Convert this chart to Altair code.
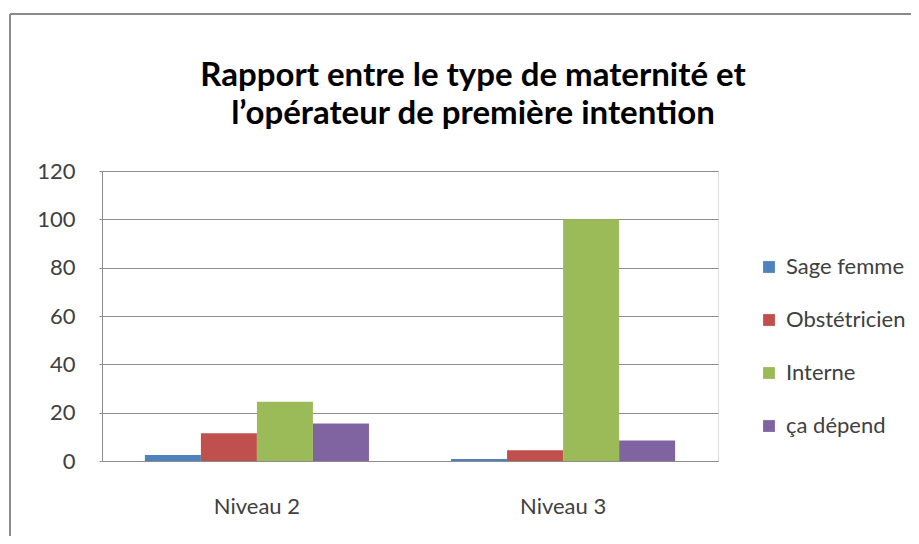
import altair as alt
import pandas as pd

categories = ["Niveau 2", "Niveau 3"]
series = ["Sage femme", "Obstétricien", "Interne", "ça dépend"]
colors = ["#4F81BD", "#C0504D", "#9BBB59", "#8064A2"]
niveau2 = [2.5, 11.5, 24.5, 15.5]
niveau3 = [0.8, 4.5, 100, 8.5]
y_ticks = [0, 20, 40, 60, 80, 100, 120]
title_lines = ["Rapport entre le type de maternité et", "l’opérateur de première intention"]

rows = []
for s, a, b in zip(series, niveau2, niveau3):
    rows.append({"niveau": categories[0], "operateur": s, "valeur": a})
    rows.append({"niveau": categories[1], "operateur": s, "valeur": b})
df = pd.DataFrame(rows)

FONT = "Lato"
W, H = 616, 290

bars = alt.Chart(df).mark_bar(size=56).encode(
    x=alt.X("niveau:N", sort=categories, title=None,
            scale=alt.Scale(paddingInner=0.268, paddingOuter=0.14),
            axis=alt.Axis(labelAngle=0, labelFontSize=22, labelColor="#404040",
                          labelFont=FONT, ticks=False, labelPadding=35,
                          domainColor="#8C8C8C", domainWidth=1)),
    xOffset=alt.XOffset("operateur:N", sort=series,
                        scale=alt.Scale(paddingInner=0, paddingOuter=0)),
    y=alt.Y("valeur:Q", title=None,
            scale=alt.Scale(domain=[0, 120], nice=False),
            axis=alt.Axis(values=y_ticks, labelFontSize=22, labelColor="#404040",
                          labelFont=FONT, tickSize=3, tickColor="#8C8C8C",
                          labelPadding=24, domainColor="#8C8C8C",
                          grid=True, gridColor="#8C8C8C", gridWidth=1)),
    color=alt.Color("operateur:N", sort=series,
                    scale=alt.Scale(domain=series, range=colors),
                    legend=alt.Legend(title=None, orient="none", legendX=656, legendY=85,
                                      symbolType="square", symbolSize=140,
                                      symbolStrokeWidth=0, labelFontSize=22,
                                      labelFont=FONT, labelColor="#404040",
                                      rowPadding=31, labelOffset=6, padding=0)),
)

frame_top = alt.Chart(df).mark_rule(color="#8a8a8a", strokeWidth=2).encode(
    x=alt.value(-92), x2=alt.value(W + 200), y=alt.value(-157))
frame_left = alt.Chart(df).mark_rule(color="#8a8a8a", strokeWidth=2).encode(
    x=alt.value(-92), y=alt.value(-157), y2=alt.value(H + 100))

chart = alt.layer(bars, frame_top, frame_left).properties(
    width=W, height=H,
    autosize=alt.AutoSizeParams(type="none"),
    padding={"left": 94, "top": 163, "right": 193, "bottom": 75},
    title=alt.Title(title_lines, anchor="middle", dx=63, offset=-118,
                    font=FONT, fontSize=33, fontWeight="bold", color="#000000",
                    lineHeight=38),
).configure_view(stroke=None).configure(background="white")

chart.save("out.html", embed_options={"renderer": "svg", "actions": False})
